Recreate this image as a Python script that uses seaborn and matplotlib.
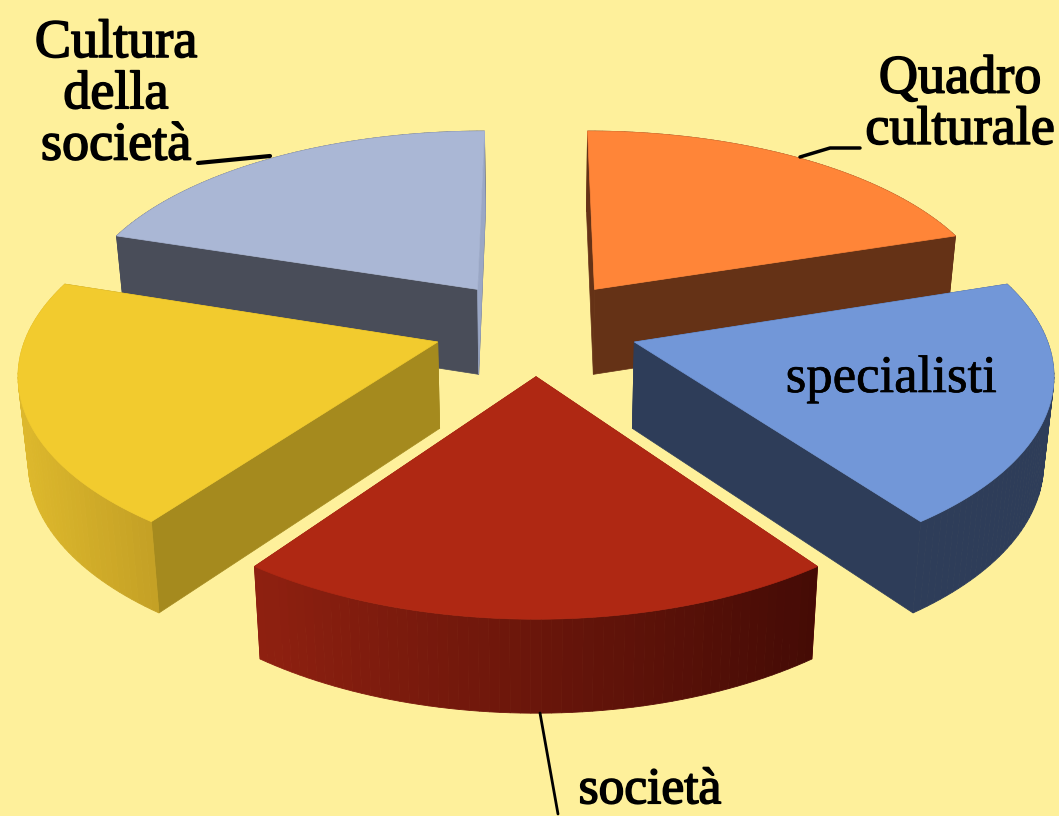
import numpy as np
import matplotlib
matplotlib.use("Agg")
import matplotlib.pyplot as plt
import matplotlib.patheffects as pe
import seaborn as sns

# equal shares, clockwise from 12 o'clock
labels = ["Quadro\nculturale", "specialisti", "società", "", "Cultura\ndella\nsocietà"]
values = [20, 20, 20, 20, 20]
top_colors = ["#FF8538", "#7297D8", "#AF2813", "#F2CB2E", "#AAB7D5"]
wall_colors = ["#653216", "#2E3D59", "#8E2010", "#A58A1E", "#494D59"]
outer_from = ["#653216", "#2E3D59", "#8E2010", "#DDB82C", "#494D59"]
outer_to = ["#653216", "#2E3D59", "#440B05", "#C4A025", "#494D59"]
grey_sliver = "#9AA7C5"

sns.set_theme(style="white")
plt.rcParams["font.family"] = ["Liberation Serif", "DejaVu Serif"]

bg = "#FEF09B"
cx = 536
explode = 0.25
scale_x = 409
persp_x = 0.138
persp = 0.145
scale_y = 1320
horizon = -993
shrink = 0.98


def project(X, Y, bottom=False):
    w = 1 + persp * Y
    sx = scale_x * X / (1 + persp_x * Y)
    sy = horizon + scale_y / w
    if bottom:
        sx = sx * shrink
        sy = sy + 50 + 36 / w
    return cx + sx, sy


fig, ax = plt.subplots(figsize=(10.59, 8.16), dpi=100)
fig.patch.set_facecolor(bg)
ax.set_position([0, 0, 1, 1])
ax.set_facecolor(bg)
ax.set_xlim(0, 1059)
ax.set_ylim(816, 0)
ax.axis("off")

fracs = np.array(values) / sum(values)
ends = np.cumsum(fracs) * 2 * np.pi
starts = ends - fracs * 2 * np.pi
# back to front
order = [4, 0, 3, 1, 2]

for i in order:
    mid = (starts[i] + ends[i]) / 2
    ox, oy = explode * np.sin(mid), explode * np.cos(mid)
    t = np.linspace(starts[i], ends[i], 60)
    X = ox + np.sin(t)
    Y = oy + np.cos(t)
    tx, ty = project(X, Y)
    bx, by = project(X, Y, bottom=True)
    ax0, ay0 = project(ox, oy)
    ax1, ay1 = project(ox, oy, bottom=True)

    # radial walls
    for k in [0, -1]:
        ax.fill([ax0, tx[k], bx[k], ax1], [ay0, ty[k], by[k], ay1],
                color=wall_colors[i], lw=0.5)
    # outer wall, gradient strips
    pal = sns.blend_palette([outer_from[i], outer_to[i]], 59)
    lo, hi = tx.min(), tx.max()
    for k in range(59):
        c = pal[int((tx[k] + tx[k + 1]) / 2 - lo) * 58 // max(int(hi - lo), 1)]
        ax.fill([tx[k], tx[k + 1], bx[k + 1], bx[k]],
                [ty[k], ty[k + 1], by[k + 1], by[k]], color=c, lw=0.6)
    # back wall of the grey slice catches the light
    if i == 4:
        ax.fill([ax0, tx[-1], bx[-1], ax1], [ay0, ty[-1], by[-1], ay1],
                color=grey_sliver, lw=0.5)
    # top face
    ax.fill(np.r_[ax0, tx], np.r_[ay0, ty], color=top_colors[i], lw=0.5)

# leader lines
sns.lineplot(x=[198, 270], y=[163, 156], color="black", lw=3, ax=ax, sort=False)
sns.lineplot(x=[800, 830, 860], y=[157, 148, 148], color="black", lw=2.5, ax=ax, sort=False)
sns.lineplot(x=[540, 558], y=[713, 814], color="black", lw=2, ax=ax, sort=False)

text_pos = [(960, 105), (891, 379), (650, 791), (0, 0), (116, 95)]
text_size = [39, 38, 37, 38, 39]
text_bold = [1.2, 0.5, 1.2, 0, 1.2]
for lab, (x, y), fs, sw in zip(labels, text_pos, text_size, text_bold):
    if lab:
        ax.text(x, y, lab, ha="center", va="center", fontsize=fs, color="black",
                linespacing=1.02,
                path_effects=[pe.withStroke(linewidth=sw, foreground="black")])

fig.savefig("out.png", dpi=100, facecolor=bg)
